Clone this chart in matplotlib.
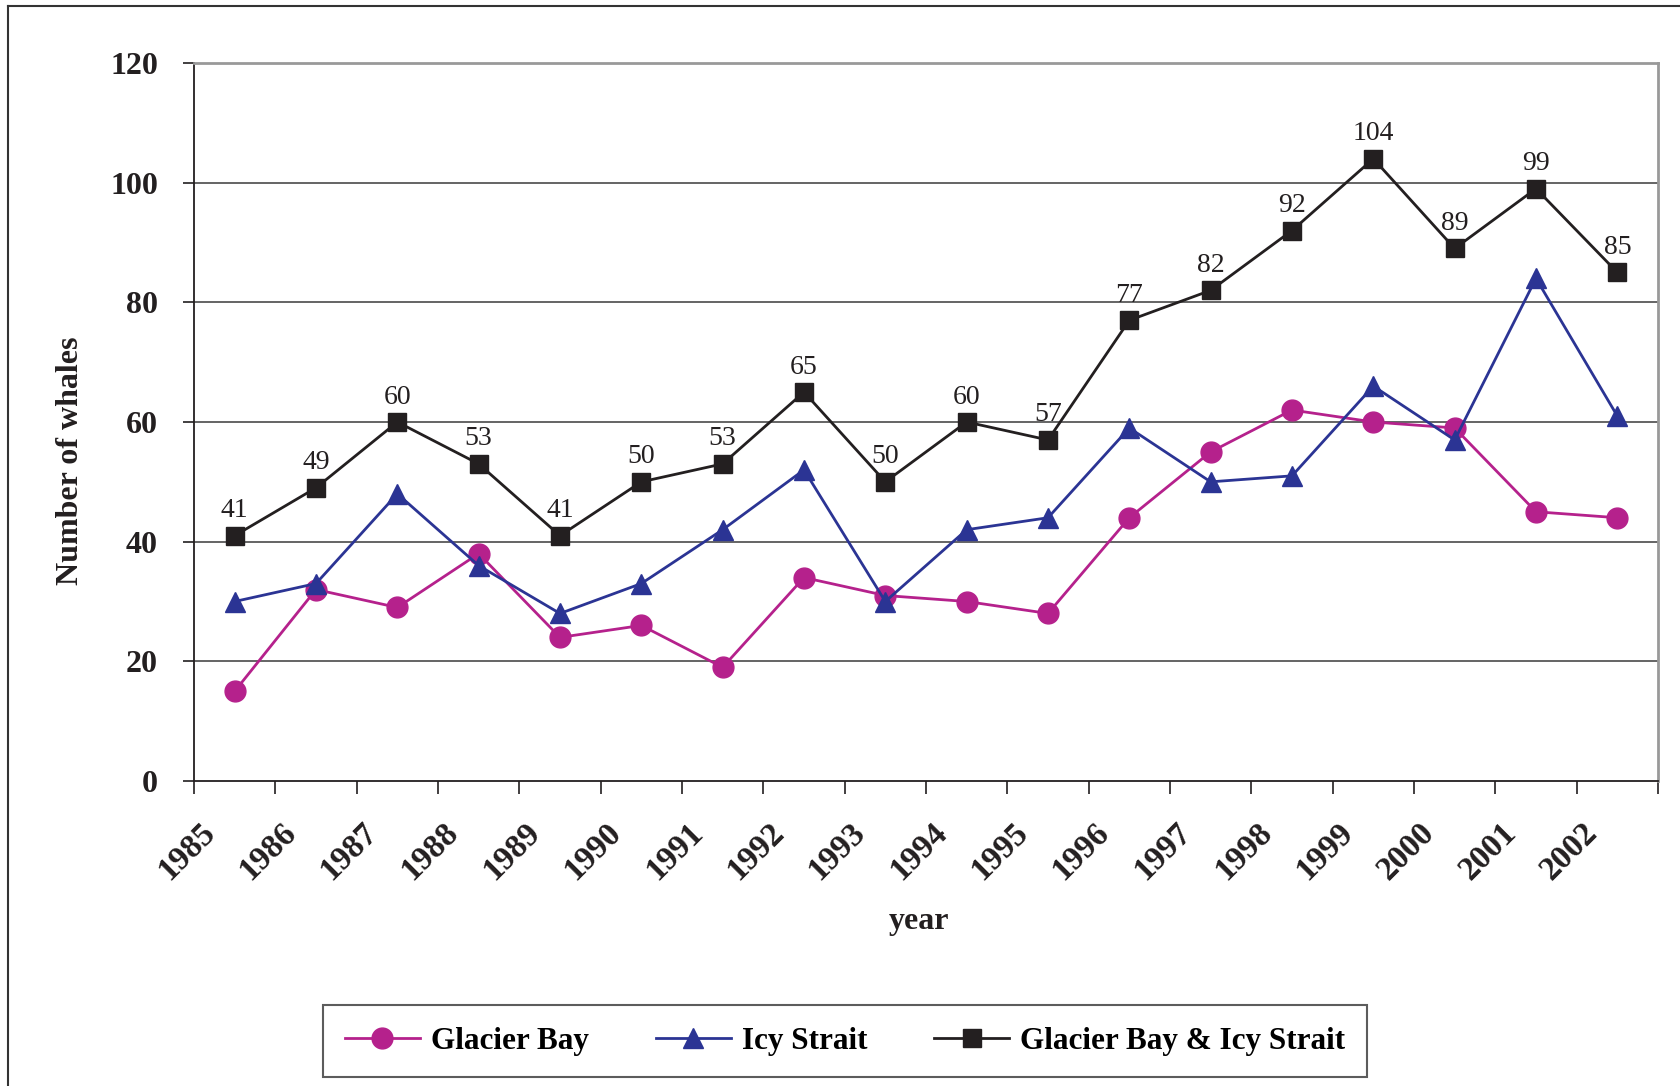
import matplotlib
matplotlib.use("Agg")
import matplotlib.pyplot as plt
from matplotlib.lines import Line2D
from matplotlib.transforms import ScaledTranslation

plt.rcParams['font.family'] = ['Liberation Serif', 'DejaVu Serif']

years = ["1985", "1986", "1987", "1988", "1989", "1990", "1991", "1992", "1993",
         "1994", "1995", "1996", "1997", "1998", "1999", "2000", "2001", "2002"]
glacier_bay = [15, 32, 29, 38, 24, 26, 19, 34, 31, 30, 28, 44, 55, 62, 60, 59, 45, 44]
icy_strait = [30, 33, 48, 36, 28, 33, 42, 52, 30, 42, 44, 59, 50, 51, 66, 57, 84, 61]
combined = [41, 49, 60, 53, 41, 50, 53, 65, 50, 60, 57, 77, 82, 92, 104, 89, 99, 85]
y_ticks = [0, 20, 40, 60, 80, 100, 120]

MAGENTA = "#B5218C"
BLUE = "#2B3494"
BLACK = "#231F20"

W, H = 1680, 1086
fig = plt.figure(figsize=(W / 100, H / 100), dpi=100)

# axes box in pixel coordinates
left, right, top, bottom = 194, 1658, 63, 781
ax = fig.add_axes([left / W, 1 - bottom / H, (right - left) / W, (bottom - top) / H])

x = [i + 0.5 for i in range(len(years))]

ax.plot(x, combined, color=BLACK, lw=2.0, marker="s", ms=13, mfc=BLACK, mec=BLACK,
        zorder=3, label="Glacier Bay & Icy Strait")
ax.plot(x, icy_strait, color=BLUE, lw=2.0, marker="^", ms=15, mfc=BLUE, mec=BLUE,
        zorder=4, label="Icy Strait")
ax.plot(x, glacier_bay, color=MAGENTA, lw=2.0, marker="o", ms=15, mfc=MAGENTA, mec=MAGENTA,
        zorder=3, label="Glacier Bay")

for xi, v in zip(x, combined):
    ax.annotate(str(v), (xi, v), xytext=(0, 9), textcoords="offset points",
                ha="center", va="bottom", fontsize=20, color=BLACK, zorder=5)

ax.set_xlim(0, len(years))
ax.set_ylim(0, 120)
ax.set_yticks(y_ticks)
ax.set_yticklabels([str(t) for t in y_ticks], fontsize=23, fontweight="bold")
ax.set_xticks(range(len(years) + 1))
ax.set_xticklabels([])
ax.tick_params(axis="y", direction="out", length=8, width=1.2, pad=18, colors=BLACK)
ax.tick_params(axis="x", direction="out", length=9, width=1.2, colors=BLACK)

# rotated year labels anchored just right of each tick
offset = ScaledTranslation(16 / 100, -47 / 100, fig.dpi_scale_trans)
for i, lab in enumerate(years):
    ax.text(i, 0, lab, transform=ax.get_xaxis_transform() + offset,
            rotation=45, rotation_mode="anchor", ha="right", va="center",
            fontsize=24, fontweight="bold", color=BLACK)

for t in y_ticks[1:-1]:
    ax.axhline(t, color="#3a3a3a", lw=1.1, zorder=1)

ax.spines["left"].set_color(BLACK)
ax.spines["left"].set_linewidth(1.3)
ax.spines["bottom"].set_color(BLACK)
ax.spines["bottom"].set_linewidth(1.3)
ax.spines["top"].set_color("#999999")
ax.spines["top"].set_linewidth(2)
ax.spines["right"].set_color("#999999")
ax.spines["right"].set_linewidth(2)

fig.text(70 / W, 1 - 461 / H, "Number of whales", rotation=90, ha="center", va="center",
         fontsize=23, fontweight="bold", color=BLACK)
fig.text(919 / W, 1 - 921 / H, "year", ha="center", va="center",
         fontsize=23, fontweight="bold", color=BLACK)

handles = [
    Line2D([], [], color=MAGENTA, lw=2, marker="o", ms=15, mfc=MAGENTA, mec=MAGENTA),
    Line2D([], [], color=BLUE, lw=2, marker="^", ms=15, mfc=BLUE, mec=BLUE),
    Line2D([], [], color=BLACK, lw=2, marker="s", ms=13, mfc=BLACK, mec=BLACK),
]
labels = ["Glacier Bay", "Icy Strait", "Glacier Bay & Icy Strait"]
leg = fig.legend(handles, labels, loc="center", bbox_to_anchor=(845 / W, 1 - 1041 / H),
                 ncol=3, frameon=True, fancybox=False, edgecolor="#333333",
                 handlelength=2.4, handletextpad=0.35, columnspacing=2.15,
                 borderpad=0.7, prop={"family": "Liberation Serif", "weight": "bold", "size": 22.5})
leg.get_frame().set_linewidth(1.5)

# outer frame (top and left edges)
fig.add_artist(Line2D([8 / W, 8 / W], [0, 1 - 6 / H], transform=fig.transFigure,
                      color="#333333", lw=1.5))
fig.add_artist(Line2D([8 / W, 1], [1 - 6 / H, 1 - 6 / H], transform=fig.transFigure,
                      color="#333333", lw=1.5))

fig.savefig("out.png", dpi=100, facecolor="white")
